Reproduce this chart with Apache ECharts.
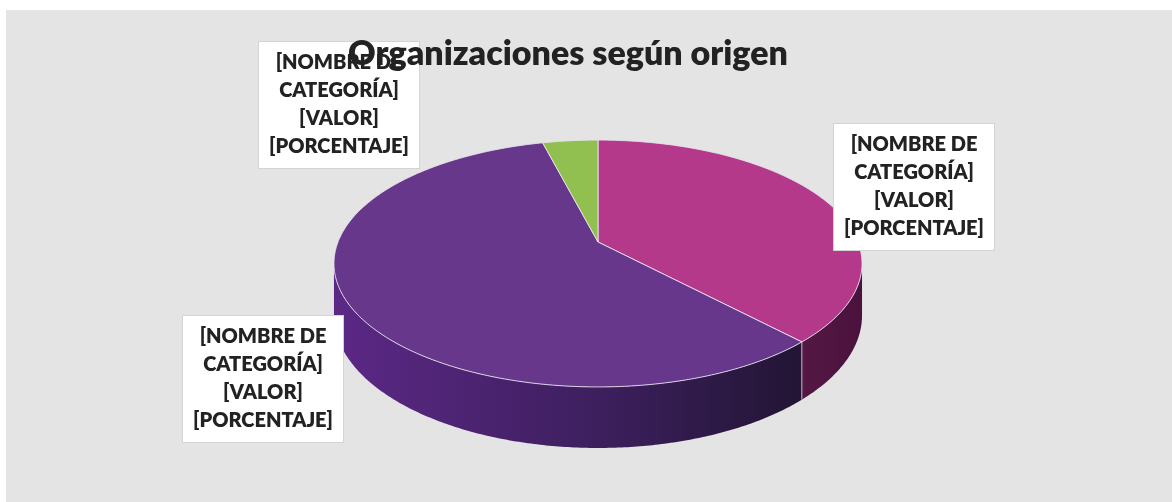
<!DOCTYPE html>
<html>
<head>
<meta charset="utf-8">
<script src="https://cdn.jsdelivr.net/npm/echarts@6/dist/echarts.min.js"></script>
<style>
html, body { margin: 0; padding: 0; background: #fff; }
#chart-container { position: absolute; left: 6px; top: 10px; width: 1166px; height: 492px; background: #e4e4e4; }
</style>
</head>
<body>
<div id="chart-container"></div>
<script>
var chartTitle = 'Organizaciones según origen';
var categories = ['Categoría 1', 'Categoría 2', 'Categoría 3'];
var values = [38, 58, 4];
var labelLines = ['[NOMBRE DE', 'CATEGORÍA]', '[VALOR]', '[PORCENTAJE]'];

// estilos
var topColors = ['#b5398a', '#66378a', '#92c050'];
var sideStops = [
  [[0, '#8a2a6a'], [0.87, '#561846'], [1, '#4a123c']],
  [[0, '#5c2886'], [0.5, '#3d1f5e'], [0.88, '#221535'], [1, '#1f1331']],
  [[0, '#6f9a3c'], [1, '#4b6a26']]
];
// posicion de las etiquetas respecto al centro del pastel
var labelOffset = [[316, -55], [-335, 137], [-259, -137]];

var dom = document.getElementById('chart-container');
var myChart = echarts.init(dom);

// geometria del pastel 3D (perspectiva)
var R = 260, tilt = 0.4604, persp = 0.1741, depth = 50.4;
var total = values.reduce(function (a, b) { return a + b; }, 0);
var frontA = Math.acos(-persp);
var frontB = 2 * Math.PI - frontA;
var halfW = R / Math.sqrt(1 - persp * persp);

function proj(cx, cy, t, down) {
  var u = Math.sin(t), v = Math.cos(t);
  var s = 1 / (1 + persp * v);
  return [cx + R * u * s, cy - tilt * R * v * s + (down ? depth * s : 0)];
}

function arc(cx, cy, a, b, down) {
  var pts = [];
  var n = Math.max(2, Math.ceil((b - a) / 0.01));
  for (var i = 0; i <= n; i++) {
    pts.push(proj(cx, cy, a + (b - a) * i / n, down));
  }
  return pts;
}

function renderItem(params, api) {
  var i = params.dataIndex;
  var cx = 592, cy = 232;
  var start = 0;
  for (var k = 0; k < i; k++) start += values[k];
  var a = start / total * 2 * Math.PI;
  var b = (start + api.value(0)) / total * 2 * Math.PI;
  var children = [];

  // lado visible
  var sa = Math.max(a, frontA), sb = Math.min(b, frontB);
  if (sb > sa) {
    var topArc = arc(cx, cy, sa, sb, false);
    var botArc = arc(cx, cy, sa, sb, true).reverse();
    children.push({
      type: 'polygon',
      z2: 1,
      shape: { points: topArc.concat(botArc) },
      style: {
        fill: {
          type: 'linear', x: cx - halfW, y: 0, x2: cx + halfW, y2: 0, global: true,
          colorStops: sideStops[i].map(function (s) { return { offset: s[0], color: s[1] }; })
        }
      }
    });
  }
  if (a > frontA && a < frontB) {
    var p1 = proj(cx, cy, a, false), p2 = proj(cx, cy, a, true);
    children.push({
      type: 'line',
      z2: 2,
      shape: { x1: p1[0], y1: p1[1], x2: p2[0], y2: p2[1] },
      style: { stroke: 'rgba(225,215,235,0.8)', lineWidth: 1 }
    });
  }

  // cara superior
  children.push({
    type: 'polygon',
    z2: 10,
    shape: { points: [[cx, cy]].concat(arc(cx, cy, a, b, false)) },
    style: { fill: topColors[i], stroke: 'rgba(232,226,240,0.9)', lineWidth: 1 }
  });

  // etiqueta
  children.push({
    type: 'text',
    z2: 20,
    x: cx + labelOffset[i][0],
    y: cy + labelOffset[i][1],
    style: {
      text: labelLines.join('\n'),
      font: '800 20px Lato',
      fill: '#222',
      align: 'center',
      verticalAlign: 'middle',
      lineHeight: 28,
      backgroundColor: '#fff',
      borderColor: '#d4d4d4',
      borderWidth: 1,
      padding: [7, 10]
    }
  });

  return { type: 'group', children: children };
}

myChart.setOption({
  animation: false,
  title: {
    text: chartTitle,
    left: 557,
    top: 22,
    textAlign: 'center',
    textStyle: { fontFamily: 'Lato', fontWeight: 800, fontSize: 34, color: '#222' }
  },
  series: [{
    type: 'custom',
    coordinateSystem: 'none',
    renderItem: renderItem,
    data: values.map(function (v, i) { return { name: categories[i], value: v }; })
  }]
});

window.addEventListener('resize', myChart.resize);
</script>
</body>
</html>
